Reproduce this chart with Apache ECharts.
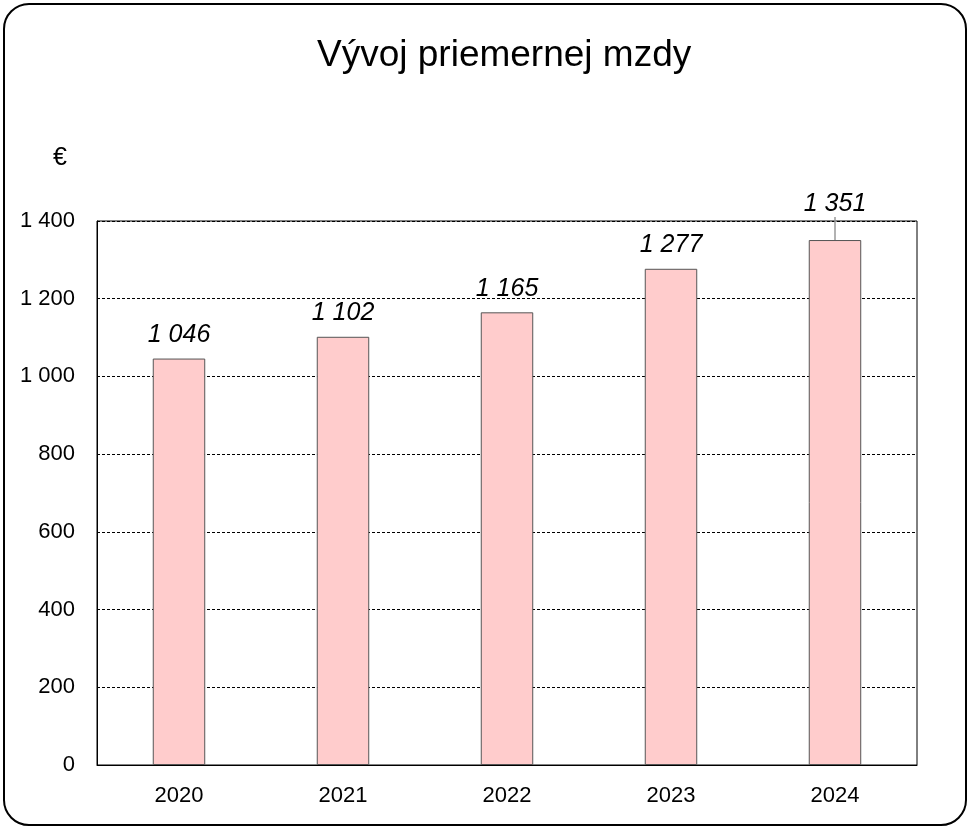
<!DOCTYPE html>
<html>
<head>
<meta charset="utf-8">
<script src="https://cdn.jsdelivr.net/npm/echarts@6/dist/echarts.min.js"></script>
<style>
  html, body { margin: 0; padding: 0; background: #fff; }
  #frame {
    position: absolute; left: 3px; top: 3px; width: 964px; height: 823px;
    border: 2px solid #000; border-radius: 26px; box-sizing: border-box;
  }
  #chart { position: absolute; left: 0; top: 0; width: 970px; height: 829px; }
</style>
</head>
<body>
<div id="frame"></div>
<div id="chart"></div>
<script>
// dáta
var years = ['2020', '2021', '2022', '2023', '2024'];
var wages = [1046, 1102, 1165, 1277, 1351];

function fmt(v) {
    return String(v).replace(/\B(?=(\d{3})+(?!\d))/g, ' ');
}

var myChart = echarts.init(document.getElementById('chart'));

// posledný popis je posunutý nad graf, s vodiacou čiarou
var barData = wages.map(function (v, i) {
    if (i === wages.length - 1) {
        return { value: v, labelLine: { show: true } };
    }
    return { value: v, labelLine: { show: false } };
});

var option = {
    animation: false,
    textStyle: { fontFamily: 'Liberation Sans, Arial, sans-serif' },
    title: {
        text: 'Vývoj priemernej mzdy',
        left: 312,
        top: 32,
        textStyle: { fontSize: 37, fontWeight: 'normal', color: '#000', fontFamily: 'Liberation Sans, Arial' }
    },
    graphic: [{
        type: 'text',
        left: 53,
        top: 146,
        style: { text: '€', fontSize: 25, fill: '#000', fontFamily: 'Liberation Sans, Arial' }
    }],
    grid: {
        left: 97, right: 53, top: 221, bottom: 64,
        show: true, borderColor: '#000', borderWidth: 1
    },
    xAxis: {
        type: 'category',
        data: years,
        axisTick: { show: false },
        axisLine: { lineStyle: { color: '#000', width: 1 } },
        axisLabel: { color: '#000', fontSize: 22, margin: 20, fontFamily: 'Liberation Sans, Arial' }
    },
    yAxis: {
        type: 'value',
        min: 0, max: 1400, interval: 200,
        axisLine: { show: true, lineStyle: { color: '#000' } },
        axisTick: { show: false },
        axisLabel: { color: '#000', fontSize: 22, margin: 22, formatter: fmt, fontFamily: 'Liberation Sans, Arial' },
        splitLine: { lineStyle: { color: '#000', type: [3, 2], width: 1 } }
    },
    series: [{
        type: 'bar',
        data: barData,
        barWidth: '32%',
        itemStyle: { color: '#FFCCCC', borderColor: '#555', borderWidth: 1 },
        label: {
            show: true,
            position: 'top',
            distance: 11,
            fontSize: 25,
            fontStyle: 'italic',
            color: '#000',
            fontFamily: 'Liberation Sans, Arial',
            formatter: function (p) { return fmt(p.value); }
        },
        labelLayout: function (p) {
            if (p.dataIndex === 4) return { dy: -12 };
            return {};
        },
        labelLine: { lineStyle: { color: '#999', width: 1.5 }, length2: 0 }
    }]
};

myChart.setOption(option);
</script>
</body>
</html>
